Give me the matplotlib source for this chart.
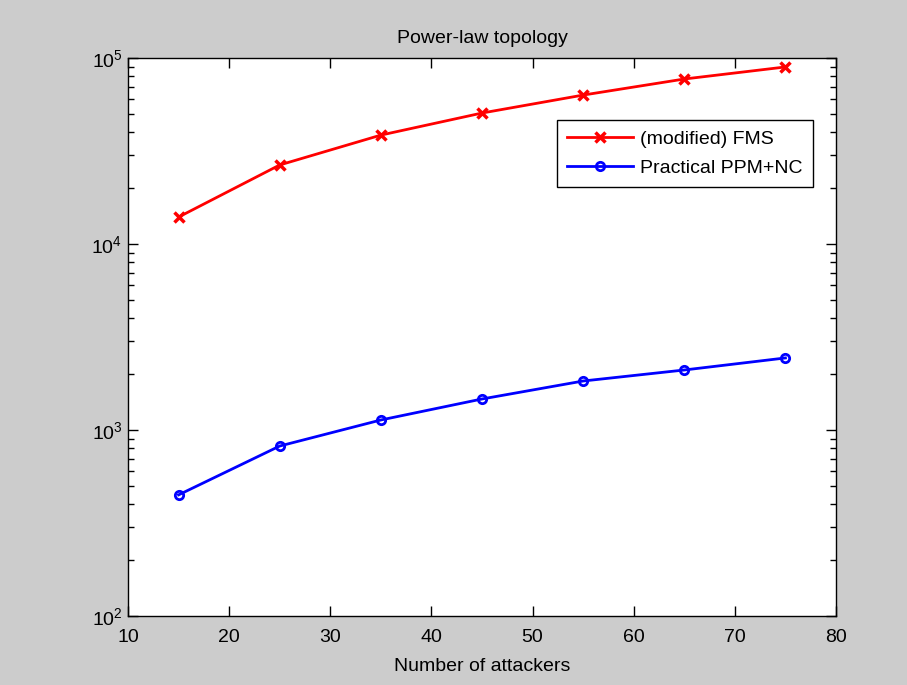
import matplotlib
matplotlib.use('Agg')
import matplotlib.pyplot as plt
from matplotlib.ticker import LogLocator, NullFormatter

attackers = [15, 25, 35, 45, 55, 65, 75]
fms = [13960, 26600, 38500, 50600, 63200, 77100, 89500]
ppm_nc = [448, 820, 1132, 1468, 1834, 2102, 2440]

plt.rcParams['font.family'] = ['Liberation Sans', 'DejaVu Sans']
plt.rcParams['mathtext.fontset'] = 'custom'
plt.rcParams['mathtext.rm'] = 'Liberation Sans'
plt.rcParams['mathtext.it'] = 'Liberation Sans'
plt.rcParams['mathtext.default'] = 'regular'

fig = plt.figure(figsize=(9.07, 6.85), dpi=100, facecolor='#cccccc')
ax = fig.add_axes([128/907, 1 - 616/685, (836-128)/907, (616-58)/685])
ax.set_facecolor('white')

ax.plot(attackers, fms, color='red', lw=2, marker='x', ms=7, mew=2.5, label='(modified) FMS')
ax.plot(attackers, ppm_nc, color='blue', lw=2, marker='o', ms=6, mew=2, mfc='none', label='Practical PPM+NC')

ax.set_yscale('log')
ax.set_xlim(10, 80)
ax.set_ylim(1e2, 1e5)
ax.set_xticks(range(10, 81, 10))
ax.yaxis.set_major_locator(LogLocator(base=10, numticks=10))
ax.yaxis.set_minor_locator(LogLocator(base=10, subs=range(2, 10), numticks=10))
ax.yaxis.set_minor_formatter(NullFormatter())

ax.tick_params(which='both', direction='in', top=True, right=True, labelsize=14, colors='black')
ax.tick_params(axis='x', pad=9)
ax.tick_params(axis='y', pad=4)
ax.tick_params(which='major', length=7, width=1)
ax.tick_params(which='minor', length=4, width=1)
for s in ax.spines.values():
    s.set_linewidth(1)

ax.set_title('Power-law topology', fontsize=14, pad=11)
ax.set_xlabel('Number of attackers', fontsize=14, labelpad=9)

leg = ax.legend(loc='upper right', bbox_to_anchor=(0.967, 0.888), fontsize=14,
                fancybox=False, framealpha=1, edgecolor='black', handlelength=3.4,
                handletextpad=0.4, borderpad=0.5, labelspacing=0.6, borderaxespad=0)
leg.get_frame().set_linewidth(1)

fig.savefig('out.png', dpi=100, facecolor=fig.get_facecolor())
